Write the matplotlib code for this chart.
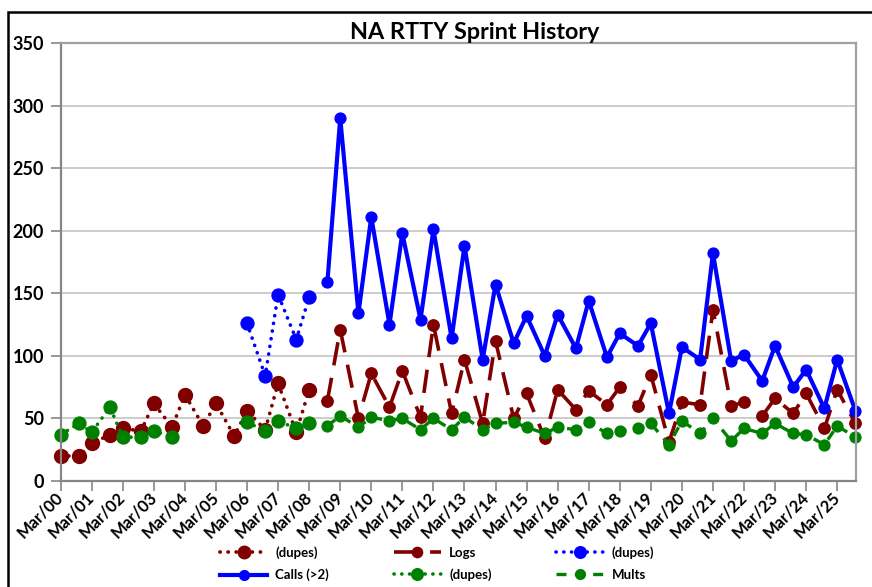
import numpy as np
import matplotlib
matplotlib.use("Agg")
import matplotlib.pyplot as plt
import matplotlib.dates as mdates
from matplotlib.patches import Rectangle
from datetime import date

plt.rcParams['font.family'] = ['Lato', 'DejaVu Sans']
plt.rcParams['font.weight'] = 'bold'

nan = np.nan

# two sprints a year, March and Sep/Oct
years = list(range(2000, 2026))
contest_dates = [date(y, m, 1) for y in years for m in (3, 10)]

# Mar/00 .. Mar/08 : scores still counted dupes
dupes_dates = contest_dates[:17]
logs_dupes = [20, 20, 30, 37, 42, 40, 62, 43, 69, 44, 62, 36, 56, 41, 78, 39, 73]
calls_dupes = [nan] * 12 + [126, 84, 149, 113, 147]
mults_dupes = [37, 46, 39, 59, 35, 35, 40, 35, nan, nan, nan, nan, 47, 40, 48, 42, 46]

# Oct/08 .. Oct/25
main_dates = contest_dates[17:]
logs = [64, 121, 50, 86, 59, 88, 51, 125, 54, 97, 46, 112, 50, 70, 34, 73, 57,
        72, 61, 75, 60, 85, 31, 63, 61, 137, 60, 63, 52, 66, 54, 70, 42, 73, 46]
calls = [159, 290, 134, 211, 125, 198, 129, 201, 114, 188, 97, 157, 110, 132, 100,
         133, 106, 144, 99, 118, 108, 126, 54, 107, 97, 182, 96, 101, 80, 108, 75,
         89, 58, 97, 56]
mults = [44, 52, 43, 51, 48, 50, 41, 50, 41, 51, 41, 46, 47, 43, 38, 43, 41, 47,
         38, 40, 42, 46, 29, 48, 38, 50, 32, 42, 38, 46, 38, 37, 29, 44, 35]

RED = '#800000'
BLUE = '#0000FF'
GREEN = '#008000'
DOTS = (0, (0.05, 2.1))

fig = plt.figure(figsize=(8.72, 5.87), dpi=100)
W, H = 872.0, 587.0
ax = fig.add_axes([60.7 / W, 1 - 481 / H, (856 - 60.7) / W, (481 - 43) / H])

h = []
h += ax.plot(dupes_dates, logs_dupes, color=RED, ls=DOTS, lw=2.7, marker='o', ms=10,
             dash_capstyle='round', label='(dupes)')
h += ax.plot(main_dates, logs, color=RED, ls=(0, (6.5, 3.5)), lw=2.6, marker='o', ms=8.2,
             label='Logs')
h += ax.plot(dupes_dates, calls_dupes, color=BLUE, ls=DOTS, lw=2.6, marker='o', ms=9.3,
             dash_capstyle='round', label='(dupes)')
h += ax.plot(main_dates, calls, color=BLUE, ls='-', lw=3.0, marker='o', ms=7.8,
             label='Calls (>2)')
h += ax.plot(dupes_dates, mults_dupes, color=GREEN, ls=DOTS, lw=2.6, marker='o', ms=9.3,
             dash_capstyle='round', label='(dupes)')
h += ax.plot(main_dates, mults, color=GREEN, ls=(0, (3, 2.5)), lw=2.4, marker='o', ms=7.8,
             label='Mults')
for ln in h:
    ln.set_clip_on(False)

ax.set_ylim(0, 350)
ax.set_yticks(range(0, 351, 50))
ax.set_xlim(date(2000, 3, 1), date(2025, 10, 8))
ax.xaxis.set_major_locator(mdates.YearLocator(base=1, month=3, day=1))
ax.xaxis.set_major_formatter(mdates.DateFormatter('%b/%y'))

ax.yaxis.grid(True, color='#C8C8C8', lw=1.3)
ax.set_axisbelow(True)
for side in ('left', 'bottom'):
    ax.spines[side].set_color('#868686')
    ax.spines[side].set_linewidth(1.6)
for side in ('top', 'right'):
    ax.spines[side].set_color('#A0A0A0')
    ax.spines[side].set_linewidth(1.6)

ax.tick_params(axis='y', direction='out', length=7, width=1.2, color='#868686',
               labelsize=13, pad=5)
ax.tick_params(axis='x', direction='out', length=7, width=1.2, color='#868686',
               labelsize=12, pad=3)
for lab in ax.get_yticklabels():
    lab.set_fontweight('bold')
for lab in ax.get_xticklabels():
    lab.set_rotation(45)
    lab.set_ha('right')
    lab.set_va('center')
    lab.set_rotation_mode('anchor')
    lab.set_fontweight('bold')

fig.text(474.5 / W, 1 - 39 / H, 'NA RTTY Sprint History', ha='center', va='baseline',
         fontsize=16.8, fontweight='bold')

# legend laid out row by row, three per row
order = [0, 3, 1, 4, 2, 5]
fig.legend([h[i] for i in order], [h[i].get_label() for i in order], ncol=3,
           loc='upper center', bbox_to_anchor=(437 / W, 1 - 546 / H), frameon=False,
           prop={'size': 9.5, 'weight': 'bold'}, handlelength=3.6, handletextpad=0.6,
           columnspacing=4.9, labelspacing=0.75, numpoints=1, markerscale=0.9,
           borderaxespad=0, borderpad=0)

# outer chart frame
fig.patches.append(Rectangle((8 / W, -0.1), 1.2, 1 - 11.5 / H + 0.1, transform=fig.transFigure,
                             fill=False, edgecolor='black', lw=1.8))

fig.savefig('out.png', dpi=100)
